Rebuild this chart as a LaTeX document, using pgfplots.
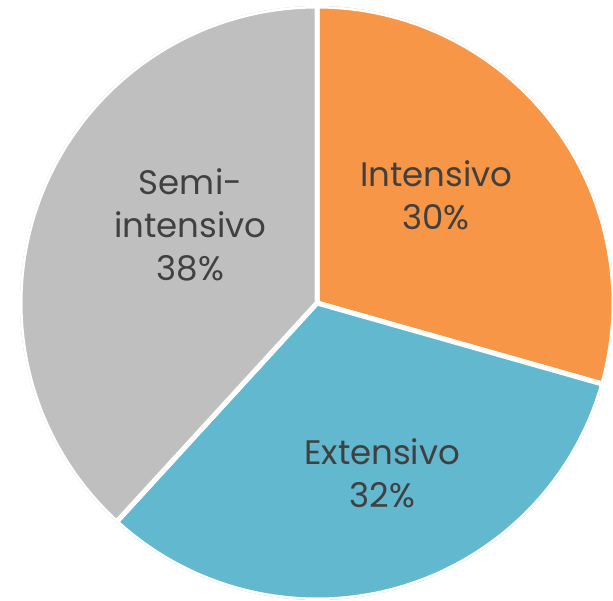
\documentclass[border=0pt]{standalone}
\usepackage{pgfplots}
\pgfplotsset{compat=1.18}
\usepgfplotslibrary{polar}
\usepackage{fontspec}
\setmainfont{Poppins}
\definecolor{cInt}{HTML}{F79646}
\definecolor{cExt}{HTML}{62B8CF}
\definecolor{cSemi}{HTML}{BFBFBF}
\definecolor{txt}{HTML}{404040}
\tikzset{lbl/.style={font=\fontsize{34}{43}\selectfont, text=txt, align=center, inner sep=0pt}}
\begin{document}
\begin{tikzpicture}
% shares in percent (labels are rounded)
\pgfmathsetmacro{\pInt}{29.4}
\pgfmathsetmacro{\pExt}{32.4}
\pgfmathsetmacro{\aA}{90}
\pgfmathsetmacro{\aB}{90-3.6*\pInt}
\pgfmathsetmacro{\aC}{\aB-3.6*\pExt}
\pgfmathsetmacro{\aD}{-270}
\begin{polaraxis}[
  name=pie, hide axis, scale only axis,
  width=594pt, height=594pt,
  ymin=0, ymax=1,
]
\addplot[fill=cInt, draw=white, line width=5pt, line join=round, domain=\aB:\aA, samples=90]
  {1} -- (axis cs:0,0) -- cycle;
\addplot[fill=cExt, draw=white, line width=5pt, line join=round, domain=\aC:\aB, samples=90]
  {1} -- (axis cs:0,0) -- cycle;
\addplot[fill=cSemi, draw=white, line width=5pt, line join=round, domain=\aD:\aC, samples=120]
  {1} -- (axis cs:0,0) -- cycle;
\node[lbl] at (axis cs:42,0.54) {Intensivo\\30\%};
\node[lbl] at (axis cs:-69,0.613) {Extensivo\\32\%};
\node[lbl] at (axis cs:148.4,0.50) {Semi-\\intensivo\\38\%};
\end{polaraxis}
\pgfresetboundingbox
\path[use as bounding box] (pie.center) ++(-317pt,303pt) rectangle ++(613pt,-600pt);
\end{tikzpicture}
\end{document}
